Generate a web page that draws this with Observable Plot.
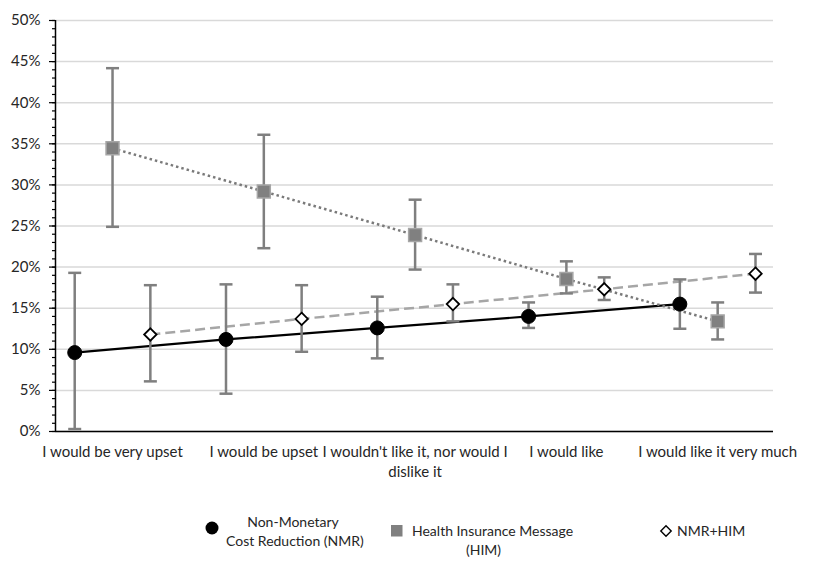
<!DOCTYPE html>
<html><head><meta charset="utf-8">
<script src="https://cdn.jsdelivr.net/npm/d3@7"></script>
<script src="https://cdn.jsdelivr.net/npm/@observablehq/plot@0.6"></script>
<style>
body{margin:0;background:#fff;font-family:Lato,"Open Sans",sans-serif;}
#wrap{position:relative;width:829px;height:561px;overflow:hidden;}
#legend{position:absolute;left:0;top:490px;width:829px;height:71px;font-size:14px;color:#262626;}
#legend .t{position:absolute;white-space:nowrap;line-height:19px;}
#legend svg{position:absolute;overflow:visible;}
</style></head><body>
<div id="wrap"><div id="chart"></div><div id="legend"></div></div>
<script>
const categories = ["I would be very upset","I would be upset","I wouldn't like it, nor would I dislike it","I would like","I would like it very much"];
const tickLabels = ["I would be very upset","I would be upset","I wouldn't like it, nor would I\ndislike it","I would like","I would like it very much"];
const yTicks = [0,5,10,15,20,25,30,35,40,45,50];

const nmr      = [9.6, 11.2, 12.6, 14.0, 15.5];
const nmrLow   = [0.3, 4.6, 8.9, 12.6, 12.5];
const nmrHigh  = [19.3, 17.9, 16.4, 15.7, 18.5];

const him      = [34.45, 29.2, 23.9, 18.55, 13.4];
const himLow   = [24.9, 22.3, 19.7, 16.8, 11.2];
const himHigh  = [44.2, 36.1, 28.2, 20.7, 15.7];

const combo     = [11.8, 13.7, 15.5, 17.3, 19.2];
const comboLow  = [6.1, 9.7, 13.4, 16.0, 16.9];
const comboHigh = [17.8, 17.8, 17.9, 18.75, 21.6];

const seriesNames = ["Non-Monetary Cost Reduction (NMR)", "Health Insurance Message (HIM)", "NMR+HIM"];

// layout / style
const series = [
  {name: seriesNames[0], v: nmr, lo: nmrLow, hi: nmrHigh, offset: -0.25},
  {name: seriesNames[1], v: him, lo: himLow, hi: himHigh, offset: 0},
  {name: seriesNames[2], v: combo, lo: comboLow, hi: comboHigh, offset: 0.25}
];
const rows = series.flatMap(s => categories.map((c, i) => ({
  series: s.name, category: c, x: i + s.offset, y: s.v[i], lo: s.lo[i], hi: s.hi[i]
})));
const bySeries = name => rows.filter(d => d.series === name);

const cap = {draw(ctx, size){ const w = Math.sqrt(size / Math.PI); ctx.moveTo(-w, 0); ctx.lineTo(w, 0); }};
const xDomain = [-0.377, 4.369];
const errColor = "#7f7f7f";

const chart = Plot.plot({
  width: 829, height: 490,
  marginLeft: 55, marginRight: 56, marginTop: 20, marginBottom: 59,
  style: {fontFamily: "Lato, 'Open Sans', sans-serif", fontSize: "15px", color: "#262626", background: "#fff"},
  x: {type: "linear", domain: xDomain, label: null},
  y: {domain: [0, 50], label: null},
  marks: [
    Plot.gridY(yTicks, {stroke: "#d9d9d9", strokeOpacity: 1, strokeWidth: 1.5}),
    Plot.axisY({ticks: d3.range(0, 51, 1), tickSize: 3, tickFormat: () => "", label: null, stroke: "#000", strokeWidth: 1.2}),
    Plot.axisY({ticks: yTicks, tickSize: 6, tickPadding: 9, tickFormat: d => d + "%", label: null, fontSize: 15, stroke: "#000", strokeWidth: 1.2, fill: "#262626"}),
    Plot.axisX({ticks: [0,1,2,3,4], tickSize: 0, tickPadding: 12, tickFormat: i => tickLabels[i], label: null, fontSize: 15, lineHeight: 1.3, fill: "#262626"}),
    Plot.ruleX([xDomain[0]], {y1: 0, y2: 50, stroke: "#000", strokeWidth: 1.5}),
    Plot.ruleY([0], {stroke: "#000", strokeWidth: 1.5}),
    Plot.line(bySeries(seriesNames[0]), {x: "x", y: "y", stroke: "#000", strokeWidth: 2.2}),
    Plot.line(bySeries(seriesNames[1]), {x: "x", y: "y", stroke: "#7a7a7a", strokeWidth: 2.5, strokeDasharray: "2.5,3", strokeLinecap: "butt"}),
    Plot.line(bySeries(seriesNames[2]), {x: "x", y: "y", stroke: "#a6a6a6", strokeWidth: 2.5, strokeDasharray: "10,5", strokeLinecap: "butt"}),
    Plot.ruleX(rows, {x: "x", y1: "lo", y2: "hi", stroke: errColor, strokeWidth: 2.5}),
    Plot.dot(rows, {x: "x", y: "lo", symbol: cap, r: 6.5, stroke: errColor, strokeWidth: 2.5, fill: "none"}),
    Plot.dot(rows, {x: "x", y: "hi", symbol: cap, r: 6.5, stroke: errColor, strokeWidth: 2.5, fill: "none"}),
    Plot.dot(bySeries(seriesNames[0]), {x: "x", y: "y", r: 7, fill: "#000", stroke: "#000", strokeWidth: 1}),
    Plot.dot(bySeries(seriesNames[1]), {x: "x", y: "y", symbol: "square", r: 7.3, fill: "#808080", stroke: "#a6a6a6", strokeWidth: 1.5}),
    Plot.dot(bySeries(seriesNames[2]), {x: "x", y: "y", symbol: "diamond2", r: 5.6, fill: "#fff", stroke: "#000", strokeWidth: 1.8})
  ]
});
document.getElementById("chart").appendChild(chart);

// legend
const legend = document.getElementById("legend");
legend.innerHTML = `
  <svg style="left:205px;top:31px" width="14" height="14"><circle cx="7" cy="7" r="6.5" fill="#000"/></svg>
  <div class="t" style="left:226px;top:22px;width:134px;text-align:center">Non-Monetary<br>Cost Reduction (NMR)</div>
  <svg style="left:391px;top:35px" width="12" height="12"><rect x="0" y="0" width="11.5" height="11.5" fill="#808080"/></svg>
  <div class="t" style="left:412px;top:31px;">Health Insurance Message</div>
  <div class="t" style="left:466px;top:50px;">(HIM)</div>
  <svg style="left:660px;top:35px" width="12" height="12"><path d="M6,0.8 L11.2,6 L6,11.2 L0.8,6 Z" fill="#fff" stroke="#000" stroke-width="1.4"/></svg>
  <div class="t" style="left:677px;top:31px;">NMR+HIM</div>
`;
</script>
</body></html>
